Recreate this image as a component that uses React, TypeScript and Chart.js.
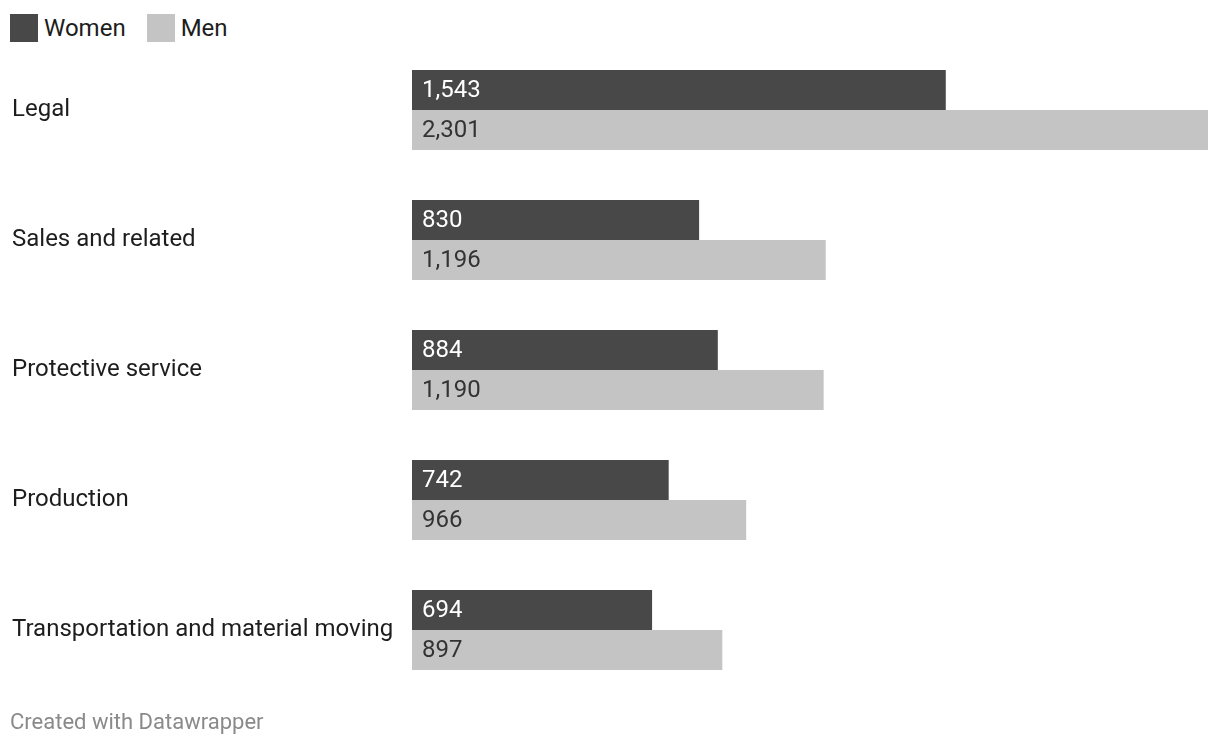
import React, { useEffect, useRef } from "react";
import { Chart, registerables } from "chart.js";

Chart.register(...registerables);

const categories = [
  "Legal",
  "Sales and related",
  "Protective service",
  "Production",
  "Transportation and material moving",
];
const women = [1543, 830, 884, 742, 694];
const men = [2301, 1196, 1190, 966, 897];
const seriesNames = ["Women", "Men"];
const colors = ["#484848", "#c4c4c4"];
const labelColors = ["#ffffff", "#333333"];

const FONT = "Roboto, 'Noto Sans', sans-serif";

const valueLabels = {
  id: "valueLabels",
  afterDatasetsDraw(chart: any) {
    const ctx = chart.ctx;
    ctx.save();
    ctx.font = `24px ${FONT}`;
    ctx.textBaseline = "middle";
    ctx.textAlign = "left";
    chart.data.datasets.forEach((ds: any, di: number) => {
      const meta = chart.getDatasetMeta(di);
      meta.data.forEach((bar: any, i: number) => {
        const v = ds.data[i] as number;
        ctx.fillStyle = labelColors[di];
        ctx.fillText(v.toLocaleString("en-US"), bar.base + 10, bar.y + 1);
      });
    });
    ctx.restore();
  },
};

export default function App() {
  const ref = useRef<HTMLCanvasElement>(null);
  useEffect(() => {
    if (!ref.current) return;
    const chart = new Chart(ref.current, {
      type: "bar",
      data: {
        labels: categories,
        datasets: [
          { label: seriesNames[0], data: women, backgroundColor: colors[0] },
          { label: seriesNames[1], data: men, backgroundColor: colors[1] },
        ],
      },
      options: {
        indexAxis: "y",
        animation: false,
        responsive: false,
        maintainAspectRatio: false,
        datasets: {
          bar: { categoryPercentage: 80 / 130, barPercentage: 1 },
        },
        layout: { padding: { top: 45, bottom: 51, left: 12, right: 12 } },
        plugins: {
          legend: { display: false },
          tooltip: { enabled: false },
        },
        scales: {
          x: { display: false, min: 0, max: 2301 },
          y: {
            grid: { display: false },
            border: { display: false },
            ticks: {
              crossAlign: "far",
              color: "#1d1d1d",
              font: { family: FONT, size: 24 },
              padding: 0,
            },
            afterFit(scale: any) {
              scale.width = 400;
            },
          },
        },
      },
      plugins: [valueLabels],
    });
    return () => chart.destroy();
  }, []);

  return (
    <div
      style={{
        position: "absolute",
        left: 0,
        top: 0,
        width: 1220,
        height: 746,
        background: "#fff",
        fontFamily: FONT,
      }}
    >
      <div
        style={{
          position: "absolute",
          left: 10,
          top: 14,
          display: "flex",
          alignItems: "center",
          fontSize: 24,
          color: "#1d1d1d",
        }}
      >
        {seriesNames.map((n, i) => (
          <div key={n} style={{ display: "flex", alignItems: "center", marginRight: 21 }}>
            <div style={{ width: 28, height: 28, background: colors[i], marginRight: 6 }} />
            <span>{n}</span>
          </div>
        ))}
      </div>
      <canvas
        ref={ref}
        width={1220}
        height={746}
        style={{ position: "absolute", left: 0, top: 0, width: 1220, height: 746 }}
      />
      <div
        style={{
          position: "absolute",
          left: 10,
          top: 708,
          fontSize: 22,
          lineHeight: "28px",
          color: "#8a8a8a",
        }}
      >
        Created with Datawrapper
      </div>
    </div>
  );
}
